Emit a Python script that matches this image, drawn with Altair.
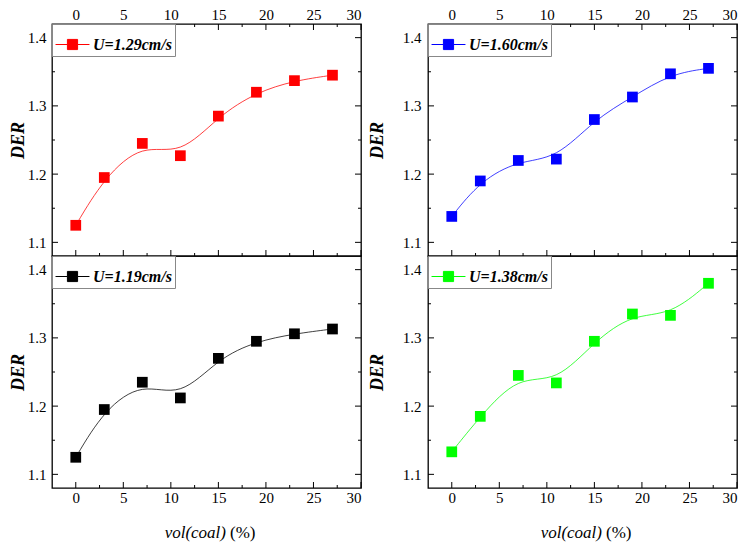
import altair as alt
import pandas as pd

# ---------------- data ----------------
vol_coal = [0, 3, 7, 11, 15, 19, 23, 27]
der_129 = [1.125, 1.195, 1.245, 1.227, 1.285, 1.320, 1.337, 1.345]
der_160 = [1.138, 1.190, 1.220, 1.222, 1.280, 1.313, 1.347, 1.355]
der_119 = [1.125, 1.195, 1.235, 1.212, 1.270, 1.295, 1.306, 1.313]
der_138 = [1.133, 1.185, 1.245, 1.234, 1.295, 1.335, 1.333, 1.380]

series_labels = ["U=1.29cm/s", "U=1.60cm/s", "U=1.19cm/s", "U=1.38cm/s"]
series_colors = ["#FF0000", "#0000FF", "#000000", "#00FF00"]

x_major = [0, 5, 10, 15, 20, 25, 30]
x_minor = [2.5, 7.5, 12.5, 17.5, 22.5, 27.5]
y_major = [1.1, 1.2, 1.3, 1.4]
y_minor = [1.15, 1.25, 1.35]

x_title_italic = "vol(coal)"
x_title_plain = "(%)"

# ---------------- style ----------------
W, H = 309, 232
FONT = "Liberation Serif, Times New Roman, serif"
XD = [-2.5, 30]
YD = [1.08, 1.42]
MAJ, MIN = 6, 3
SYMBOL = "M-1,0H-0.3M0.3,0H1M-0.3,-0.3H0.3V0.3H-0.3Z"


def panel(vals, label, color, is_top, show_xtitle, title_pad, label_pad):
    xs = alt.Scale(domain=XD, nice=False, zero=False)
    ys = alt.Scale(domain=YD, nice=False, zero=False)
    x_axis = alt.Axis(orient="top" if is_top else "bottom", values=x_major,
                      ticks=False, domain=False, grid=False, title=None,
                      labelFont=FONT, labelFontSize=15, labelPadding=2,
                      labelColor="black")
    y_axis = alt.Axis(orient="left", values=y_major, format=".1f",
                      ticks=False, domain=False, grid=False, title="DER",
                      titleFont=FONT, titleFontSize=18, titleFontStyle="italic",
                      titleFontWeight="bold", titlePadding=title_pad,
                      titleColor="black",
                      labelFont=FONT, labelFontSize=15, labelPadding=label_pad,
                      labelColor="black")
    X = alt.X("x:Q", scale=xs, axis=x_axis)
    Y = alt.Y("y:Q", scale=ys, axis=y_axis)

    df = pd.DataFrame({"x": vol_coal, "y": vals, "s": [label] * len(vals)})
    line = alt.Chart(df).mark_line(interpolate="basis", color=color,
                                   strokeWidth=1, opacity=0.75).encode(x=X, y=Y)
    pts = alt.Chart(df).mark_square(size=115, opacity=1).encode(
        x=X, y=Y,
        color=alt.Color("s:N", scale=alt.Scale(domain=[label], range=[color]),
                        legend=alt.Legend(
                            orient="top-left", offset=0, title=None,
                            padding=3, fillColor="white", strokeColor="#888888",
                            symbolType=SYMBOL, symbolSize=1150,
                            symbolFillColor=color, symbolStrokeColor=color,
                            symbolStrokeWidth=1, symbolOpacity=1,
                            labelFont=FONT, labelFontSize=16,
                            labelFontStyle="italic", labelFontWeight="bold",
                            labelColor="black", labelOffset=3)))

    layers = [line, pts]

    def xt(vals_, length, side):
        d = pd.DataFrame({"x": vals_})
        if side == "bottom":
            y1, y2 = alt.value(H), alt.value(H - length)
        else:
            y1, y2 = alt.value(0), alt.value(length)
        return alt.Chart(d).mark_rule(color="black", strokeWidth=1).encode(
            x=X, y=y1, y2=y2)

    def yt(vals_, length, side):
        d = pd.DataFrame({"y": vals_})
        if side == "left":
            x1, x2 = alt.value(0), alt.value(length)
        else:
            x1, x2 = alt.value(W), alt.value(W - length)
        return alt.Chart(d).mark_rule(color="black", strokeWidth=1).encode(
            y=Y, x=x1, x2=x2)

    layers += [xt(x_major, MAJ, "bottom"), xt(x_minor, MIN, "bottom")]
    if is_top:
        layers += [xt(x_major, MAJ, "top"), xt(x_minor, MIN, "top")]
    layers += [yt(y_major, MAJ, "left"), yt(y_minor, MIN, "left"),
               yt(y_major, MAJ, "right"), yt(y_minor, MIN, "right")]

    if show_xtitle:
        t1 = alt.Chart(pd.DataFrame({"t": [x_title_italic]})).mark_text(
            font=FONT, fontSize=17, fontStyle="italic", align="right",
            baseline="middle", color="black").encode(
            text="t:N", x=alt.value(174), y=alt.value(H + 45))
        t2 = alt.Chart(pd.DataFrame({"t": [x_title_plain]})).mark_text(
            font=FONT, fontSize=17, align="left", baseline="middle",
            color="black").encode(
            text="t:N", x=alt.value(178), y=alt.value(H + 45))
        layers += [t1, t2]

    return alt.layer(*layers).properties(width=W, height=H)


p1 = panel(der_129, series_labels[0], series_colors[0], True, False, 0, 6)
p2 = panel(der_160, series_labels[1], series_colors[1], True, False, 16, 7)
p3 = panel(der_119, series_labels[2], series_colors[2], False, True, 0, 6)
p4 = panel(der_138, series_labels[3], series_colors[3], False, True, 16, 7)

left = alt.vconcat(p1, p3, spacing=0, bounds="flush").resolve_scale(
    color="independent").resolve_legend(color="independent")
right = alt.vconcat(p2, p4, spacing=0, bounds="flush").resolve_scale(
    color="independent").resolve_legend(color="independent")

chart = alt.hconcat(left, right, spacing=4).resolve_scale(
    color="independent").resolve_legend(color="independent").configure_view(
    stroke="black", strokeWidth=1.3
).properties(
    padding={"left": 0, "top": -2, "right": 0, "bottom": 0},
    background="white",
)

chart.save("out.html", embed_options={"renderer": "svg", "actions": False})
